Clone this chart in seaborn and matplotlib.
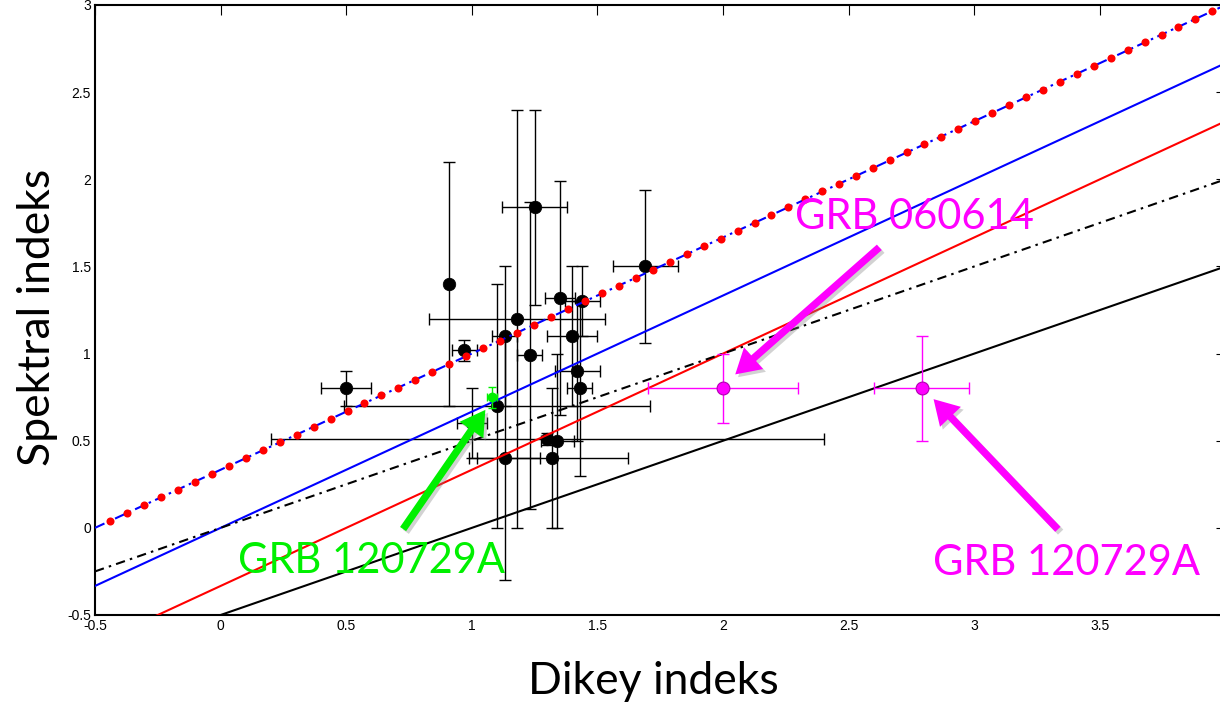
import numpy as np
import matplotlib
matplotlib.use("Agg")
import matplotlib.pyplot as plt
import matplotlib.patheffects as pe
from matplotlib.patches import FancyArrowPatch
import seaborn as sns

# Observed afterglows: decay index (x), spectral index (y) and their errors
alpha = [0.50, 0.91, 0.97, 1.00, 1.10, 1.13, 1.13, 1.18, 1.23, 1.25,
         1.30, 1.32, 1.34, 1.35, 1.40, 1.42, 1.43, 1.44, 1.69]
beta = [0.80, 1.40, 1.02, 0.60, 0.70, 1.10, 0.40, 1.20, 0.99, 1.84,
        0.51, 0.40, 0.50, 1.32, 1.10, 0.90, 0.80, 1.30, 1.50]
alpha_err = [0.10, 0.00, 0.05, 0.06, 0.61, 0.05, 0.14, 0.35, 0.05, 0.13,
             1.10, 0.30, 0.065, 0.06, 0.10, 0.09, 0.05, 0.07, 0.13]
beta_err = [0.10, 0.70, 0.06, 0.20, 0.70, 0.40, 0.70, 1.20, 0.88, 0.56,
            0.035, 0.40, 0.50, 0.67, 0.40, 0.40, 0.50, 0.20, 0.44]

# Highlighted bursts
hl_alpha = [2.00, 2.79]
hl_beta = [0.80, 0.80]
hl_alpha_err = [0.30, 0.19]
hl_beta_err = [0.20, 0.30]

grb_alpha = [1.08]
grb_beta = [0.75]
grb_alpha_err = [0.02]
grb_beta_err = [0.06]

# Closure relations beta = slope * alpha + intercept
rel_slope = [2 / 3, 2 / 3, 2 / 3, 0.5, 0.5]
rel_icept = [1 / 3, 0.0, -1 / 3, 0.0, -0.5]

x_ticks = [-0.5, 0, 0.5, 1, 1.5, 2, 2.5, 3, 3.5]
y_ticks = [-0.5, 0, 0.5, 1, 1.5, 2, 2.5, 3]

MAGENTA = "#ff00ff"
GREEN = "#00f000"

sns.set_theme(style="white")
plt.rcParams["font.family"] = ["Liberation Sans", "DejaVu Sans"]

fig = plt.figure(figsize=(12.2, 7.04), dpi=100)
ax = fig.add_axes([95 / 1220, 89 / 704, 1130.6 / 1220, 610 / 704])
ax.set_xlim(-0.5, 4.0)
ax.set_ylim(-0.5, 3.0)

# error bars and black points
ax.errorbar(alpha, beta, xerr=alpha_err, yerr=beta_err, fmt="none",
            ecolor="black", elinewidth=1.0, capsize=4.3, capthick=1.0, zorder=2)
sns.scatterplot(x=alpha, y=beta, ax=ax, color="black", s=82, edgecolor="black",
                linewidth=0.5, zorder=3, legend=False)

# closure-relation lines
xl = np.linspace(-0.5, 4.0, 200)
styles = [
    dict(color="blue", linestyle=(0, (5, 2.2, 1.2, 2.2))),
    dict(color="blue", linestyle="-"),
    dict(color="red", linestyle="-"),
    dict(color="black", linestyle=(0, (4.5, 2.5, 1.2, 2.5))),
    dict(color="black", linestyle="-"),
]
for m, c, st in zip(rel_slope, rel_icept, styles):
    sns.lineplot(x=xl, y=m * xl + c, ax=ax, lw=1.5, zorder=4, legend=False, **st)

# dotted markers along the upper relation
xd = np.arange(-0.44, 3.97, 0.0675)
ax.plot(xd, rel_slope[0] * xd + rel_icept[0], linestyle="none", marker="o",
        markersize=5.8, color="red", markeredgewidth=0, zorder=5)

# highlighted bursts
ax.errorbar(hl_alpha, hl_beta, xerr=hl_alpha_err, yerr=hl_beta_err, fmt="none",
            ecolor=MAGENTA, elinewidth=1.0, capsize=4.3, capthick=1.0, zorder=6)
sns.scatterplot(x=hl_alpha, y=hl_beta, ax=ax, color=MAGENTA, s=85,
                edgecolor="#b000b0", linewidth=0.8, zorder=7, legend=False)
ax.errorbar(grb_alpha, grb_beta, xerr=grb_alpha_err, yerr=grb_beta_err, fmt="none",
            ecolor=GREEN, elinewidth=1.0, capsize=3, capthick=1.0, zorder=6)
sns.scatterplot(x=grb_alpha, y=grb_beta, ax=ax, color=GREEN, s=50,
                edgecolor=GREEN, linewidth=0, zorder=7, legend=False)

# axes frame and ticks
ax.set_xticks(x_ticks)
ax.set_yticks(y_ticks)
ax.set_xticklabels([f"{v:g}" for v in x_ticks])
ax.set_yticklabels([f"{v:g}" for v in y_ticks])
ax.tick_params(direction="in", length=7, width=0.8, labelsize=10, pad=3,
               top=True, right=True, colors="black")
for s in ax.spines.values():
    s.set_color("black")
    s.set_linewidth(1.5)
ax.grid(False)

# annotations
shadow = [pe.SimplePatchShadow(offset=(2, -2), shadow_rgbFace="0.5", alpha=0.35),
          pe.Normal()]
arrows = [
    ((2.63, 1.62), (2.04, 0.87), MAGENTA),
    ((3.34, -0.02), (2.83, 0.75), MAGENTA),
    ((0.72, -0.02), (1.06, 0.69), GREEN),
]
for tail, head, col in arrows:
    arr = FancyArrowPatch(tail, head,
                          arrowstyle="simple,head_length=1.1,head_width=1.3,tail_width=0.33",
                          mutation_scale=16, color=col, lw=0, zorder=9,
                          path_effects=shadow)
    ax.add_patch(arr)

ann_font = dict(family=["Lato", "DejaVu Sans"], fontsize=30)
ax.text(2.286, 1.715, "GRB 060614", color=MAGENTA, ha="left", va="baseline",
        zorder=10, **ann_font)
ax.text(0.069, -0.259, "GRB 120729A", color=GREEN, ha="left", va="baseline",
        zorder=10, **ann_font)
ax.text(2.835, -0.27, "GRB 120729A", color=MAGENTA, ha="left", va="baseline",
        zorder=10, **ann_font)

axis_font = dict(family=["Lato", "DejaVu Sans"], fontsize=32)
fig.text(653 / 1220, 10 / 704, "Dikey indeks", ha="center", va="baseline",
         color="black", **axis_font)
fig.text(38 / 1220, 387 / 704, "Spektral indeks", ha="center", va="center",
         rotation=90, color="black", **axis_font)

fig.savefig("out.png", dpi=100)
